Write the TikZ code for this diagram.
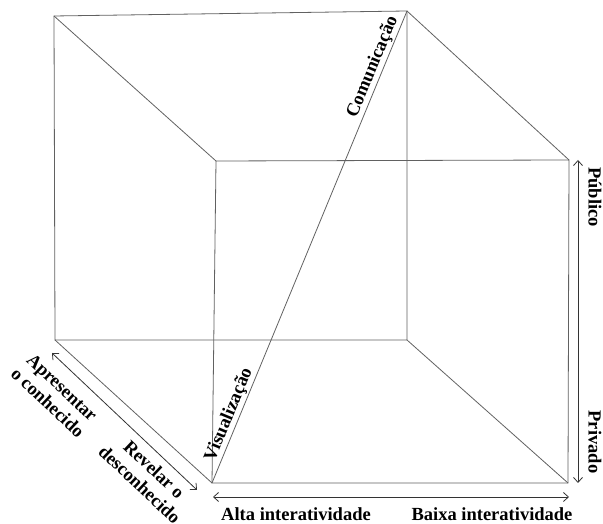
\documentclass[tikz,border=0pt]{standalone}
\usepackage{fontspec}
\setmainfont{Liberation Serif}
\usetikzlibrary{arrows.meta}
\begin{document}
\begin{tikzpicture}[x=1pt,y=1pt,
  edge/.style={draw=black!62, line width=0.8pt},
  axis/.style={draw=black!80, line width=0.8pt,
    {Straight Barb[length=5pt,width=9pt]}-{Straight Barb[length=5pt,width=9pt]}},
  lbl/.style={font=\bfseries\fontsize{18.5}{21}\selectfont, inner sep=0pt},
  twolbl/.style={lbl, align=center},
  difflbl/.style={lbl, sloped, anchor=south, inner sep=1.5pt}]
\useasboundingbox (0,0) rectangle (603,524);

% back face corners
\coordinate (btl) at (54,508);
\coordinate (btr) at (407,513);
\coordinate (bbl) at (55,184);
\coordinate (bbr) at (407,184);
% front face corners
\coordinate (ftl) at (216,363);
\coordinate (ftr) at (569,364);
\coordinate (fbl) at (212,41);
\coordinate (fbr) at (568,41);

% cube faces and depth edges
\draw[edge] (btl) -- (btr) -- (bbr) -- (bbl) -- cycle;
\draw[edge] (ftl) -- (ftr) -- (fbr) -- (fbl) -- cycle;
\draw[edge] (btl) -- (ftl);
\draw[edge] (btr) -- (ftr);
\draw[edge] (bbl) -- (fbl);
\draw[edge] (bbr) -- (fbr);

% space diagonal with its two ends labelled
\draw[edge] (fbl)
  -- node[difflbl, pos=0.136] {Visualização}
     node[difflbl, pos=0.873] {Comunicação} (btr);

% axis end points
\coordinate (hx1) at (213,27);
\coordinate (hx2) at (569,27);
\coordinate (vy1) at (578,364);
\coordinate (vy2) at (578,41);
\coordinate (dz1) at (52,171);
\coordinate (dz2) at (197,34);

% axes
\draw[axis] (hx1) -- (hx2);
\draw[axis] (vy1) -- (vy2);
\draw[axis] (dz1) -- (dz2);

% axis labels
\node[lbl, anchor=base] (alta) at (296,3) {Alta interatividade};
\node[lbl, anchor=base] (baixa) at (492,3) {Baixa interatividade};
\node[lbl, rotate=-90] (pub) at (595,327) {Público};
\node[lbl, rotate=-90] (priv) at (595,82) {Privado};
\node[twolbl, rotate=-43.4] (apr) at (55,129) {Apresentar\\o conhecido};
\node[twolbl, rotate=-43.4] (rev) at (147,47) {Revelar o\\desconhecido};
\end{tikzpicture}
\end{document}
